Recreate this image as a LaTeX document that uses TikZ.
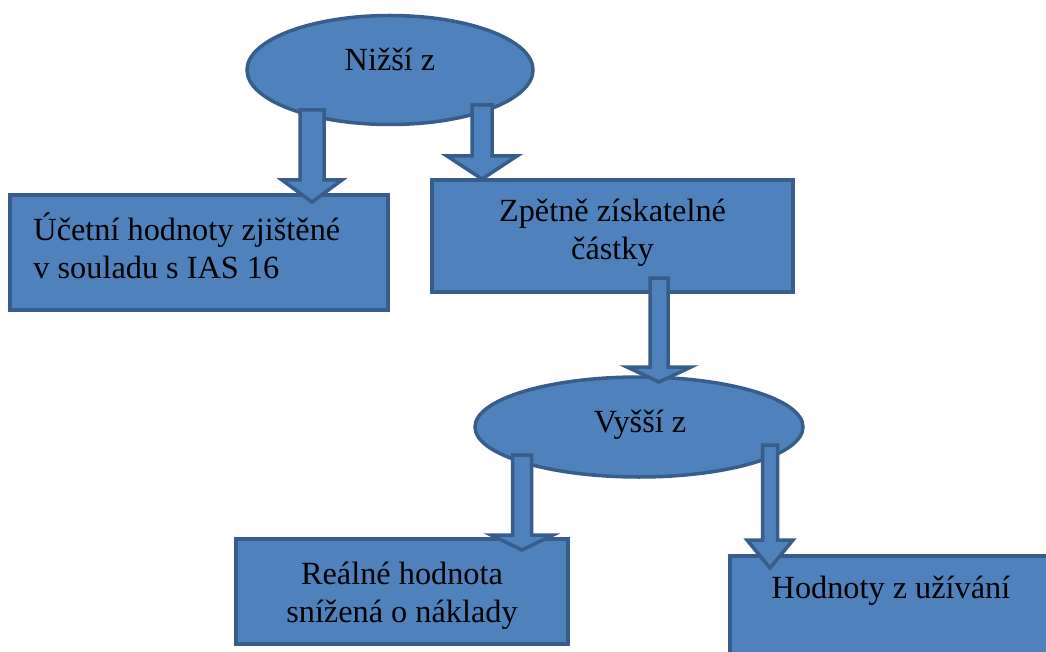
\documentclass[tikz,border=0pt]{standalone}
\usepackage{fontspec}
\setmainfont{Liberation Serif}
\newfontfamily\tnrfont{Liberation Serif}
\usetikzlibrary{shapes.geometric,calc}
\definecolor{boxfill}{HTML}{4F81BD}
\definecolor{boxline}{HTML}{385D8A}
\tikzset{
  shapebox/.style={draw=boxline, fill=boxfill, line width=3.5pt, rectangle, inner sep=0pt},
  shapeell/.style={draw=boxline, fill=boxfill, line width=3.5pt, ellipse, inner sep=0pt},
  lbl/.style={font=\tnrfont\fontsize{32.3}{38}\selectfont, inner sep=0pt, text=black},
  onel/.style={lbl, text height=23pt, text depth=7pt},
  barrowstyle/.style={draw=boxline, fill=boxfill, line width=3.5pt, line join=miter},
}
% #1 start, #2 tip, #3 shaft half width, #4 head half width, #5 head length
\newcommand\blockarr[5]{%
  \draw[barrowstyle] let \p1=(#1), \p2=(#2) in
    (\x1-#3,\y1) -- (\x1+#3,\y1) -- (\x1+#3,\y2+#5) -- (\x1+#4,\y2+#5)
    -- (\x1,\y2) -- (\x1-#4,\y2+#5) -- (\x1-#3,\y2+#5) -- cycle;}
\begin{document}
\begin{tikzpicture}[x=1pt,y=-1pt]
\useasboundingbox (0,0) rectangle (1046,652);
% shapes
\node[shapeell, minimum width=286, minimum height=109] (e1) at (390,70) {};
\node[shapebox, minimum width=378, minimum height=115] (b1) at (199,252.5) {};
\node[shapebox, minimum width=361, minimum height=112] (b2) at (612.5,236) {};
\node[shapeell, minimum width=328, minimum height=100] (e2) at (639,427) {};
\node[shapebox, minimum width=332, minimum height=105] (b3) at (402,591.5) {};
\node[shapebox, anchor=north west, minimum width=340, minimum height=120] (b4) at (728,554) {};
% texts
\node[onel] (t1) at ($(e1.center)+(0,-7)$) {Nižší z};
\node[lbl, align=left, anchor=west] (t2) at ($(b1.west)+(25,-7)$) {Účetní hodnoty zjištěné\\v souladu s IAS 16};
\node[lbl, align=center] (t3) at ($(b2.center)+(0,-3)$) {Zpětně získatelné\\částky};
\node[onel] (t4) at ($(e2.center)+(1,-2.5)$) {Vyšší z};
\node[lbl, align=center] (t5) at ($(b3.center)+(0,4)$) {Reálné hodnota\\snížená o náklady};
\node[onel] (t6) at (891,590.5) {Hodnoty z užívání};
% connector ends
\coordinate (a1s) at (312,110);
\coordinate (a1t) at (312,202);
\coordinate (a2s) at (482,105);
\coordinate (a2t) at (482,179);
\coordinate (a3s) at (659,278);
\coordinate (a3t) at (659,382);
\coordinate (a4s) at (522,455);
\coordinate (a4t) at (522,550);
\coordinate (a5s) at (770,445);
\coordinate (a5t) at (770,568);
% block arrows
\blockarr{a1s}{a1t}{12}{30}{22}
\blockarr{a2s}{a2t}{10}{35}{23}
\blockarr{a3s}{a3t}{9}{32}{15}
\blockarr{a4s}{a4t}{9.5}{31}{15}
\blockarr{a5s}{a5t}{7.5}{23}{28}
\end{tikzpicture}
\end{document}
